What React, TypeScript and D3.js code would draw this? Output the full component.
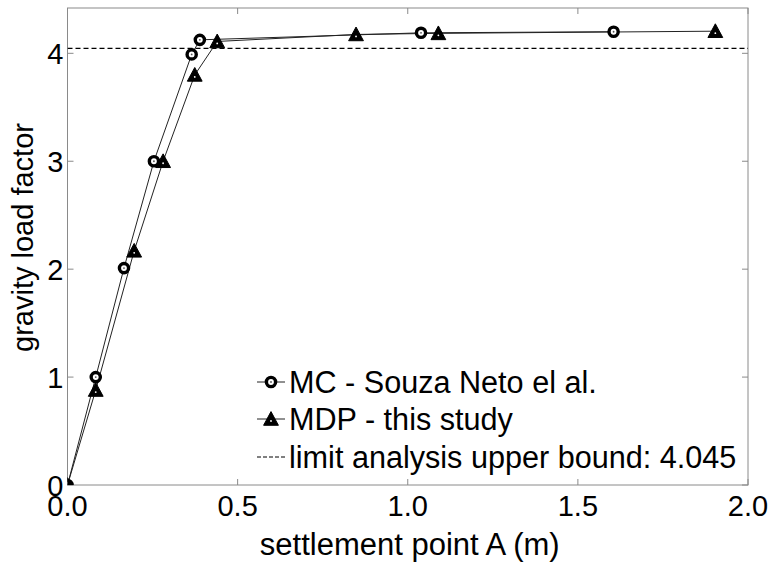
import React from "react";
import * as d3 from "d3";

const W = 771;
const H = 562;
const margin = { left: 67.5, right: 23, top: 8, bottom: 77 };

const xTicks = [0, 0.5, 1.0, 1.5, 2.0];
const yTicks = [0, 1, 2, 3, 4];
const xDomain = [0, 2.0];
const yDomain = [0, 4.42];

const mcX = [0, 0.083, 0.166, 0.254, 0.365, 0.389, 1.039, 1.605];
const mcY = [0, 1.0, 2.01, 3.0, 3.99, 4.125, 4.19, 4.2];
const mdpX = [0, 0.083, 0.196, 0.281, 0.374, 0.44, 0.848, 1.09, 1.904];
const mdpY = [0, 0.88, 2.17, 3.0, 3.8, 4.11, 4.175, 4.185, 4.205];
const upperBound = 4.045;

const legendLabels = [
  "MC - Souza Neto el al.",
  "MDP - this study",
  "limit analysis upper bound: 4.045",
];
const xLabel = "settlement point A (m)";
const yLabel = "gravity load factor";

const FONT = "'Liberation Sans', Arial, Helvetica, sans-serif";

function Circle({ cx, cy }: { cx: number; cy: number }) {
  return (
    <g>
      <circle cx={cx} cy={cy} r={4.6} fill="#fff" stroke="#000" strokeWidth={3.4} />
      <circle cx={cx} cy={cy} r={0.9} fill="#555" />
    </g>
  );
}

function Tri({ cx, cy }: { cx: number; cy: number }) {
  const s = 7.4;
  const p = `${cx},${cy - s} ${cx + s},${cy + s * 0.85} ${cx - s},${cy + s * 0.85}`;
  return (
    <g>
      <polygon points={p} fill="#000" stroke="#000" strokeWidth={1} />
      <circle cx={cx} cy={cy + 2} r={0.9} fill="#fff" />
    </g>
  );
}

export default function App() {
  const x0 = margin.left;
  const x1 = W - margin.right;
  const y0 = H - margin.bottom;
  const y1 = margin.top;
  const x = d3.scaleLinear().domain(xDomain).range([x0, x1]);
  const y = d3.scaleLinear().domain(yDomain).range([y0, y1]);

  const line = d3
    .line<[number, number]>()
    .x((d) => x(d[0]))
    .y((d) => y(d[1]));
  const mc: [number, number][] = mcX.map((v, i) => [v, mcY[i]]);
  const mdp: [number, number][] = mdpX.map((v, i) => [v, mdpY[i]]);

  const axisColor = "#8a8a8a";
  const tickLen = 6;
  const fs = 29;

  const legX = 257;
  const legRows = [382, 419, 457];

  return (
    <svg
      width={W}
      height={H}
      style={{ position: "absolute", left: 0, top: 0, background: "#fff" }}
      fontFamily={FONT}
    >
      <rect x={0} y={0} width={W} height={H} fill="#fff" />
      <defs>
        <clipPath id="plotClip">
          <rect x={x0} y={y1} width={x1 - x0} height={y0 - y1} />
        </clipPath>
      </defs>

      {/* ticks */}
      {xTicks.map((t) => (
        <g key={"xt" + t}>
          <line x1={x(t)} x2={x(t)} y1={y0} y2={y0 - tickLen} stroke={axisColor} />
          <line x1={x(t)} x2={x(t)} y1={y1} y2={y1 + tickLen} stroke={axisColor} />
          <text x={x(t)} y={y0 + 31} fontSize={fs} textAnchor="middle" fill="#000">
            {t.toFixed(1)}
          </text>
        </g>
      ))}
      {yTicks.map((t) => (
        <g key={"yt" + t}>
          <line x1={x0} x2={x0 + tickLen} y1={y(t)} y2={y(t)} stroke={axisColor} />
          <line x1={x1} x2={x1 - tickLen} y1={y(t)} y2={y(t)} stroke={axisColor} />
          <text x={x0 - 4} y={y(t) + 10.5} fontSize={fs} textAnchor="end" fill="#000">
            {t}
          </text>
        </g>
      ))}

      {/* box */}
      <rect x={x0} y={y1} width={x1 - x0} height={y0 - y1} fill="none" stroke={axisColor} strokeWidth={1} />

      <g clipPath="url(#plotClip)">
        <line
          x1={x0}
          x2={x1}
          y1={y(upperBound)}
          y2={y(upperBound)}
          stroke="#000"
          strokeWidth={1.2}
          strokeDasharray="5,3"
        />
        <path d={line(mc) || ""} fill="none" stroke="#222" strokeWidth={1} />
        <path d={line(mdp) || ""} fill="none" stroke="#222" strokeWidth={1} />
        {mc.map((d, i) => (
          <Circle key={"c" + i} cx={x(d[0])} cy={y(d[1])} />
        ))}
        {mdp.map((d, i) => (
          <Tri key={"t" + i} cx={x(d[0])} cy={y(d[1])} />
        ))}
      </g>

      {/* legend */}
      <g>
        <line x1={legX} x2={legX + 28} y1={legRows[0]} y2={legRows[0]} stroke="#222" strokeWidth={1} />
        <Circle cx={legX + 14} cy={legRows[0]} />
        <line x1={legX} x2={legX + 28} y1={legRows[1]} y2={legRows[1]} stroke="#222" strokeWidth={1} />
        <Tri cx={legX + 14} cy={legRows[1]} />
        <line
          x1={legX}
          x2={legX + 28}
          y1={legRows[2]}
          y2={legRows[2]}
          stroke="#000"
          strokeWidth={1}
          strokeDasharray="4,2"
        />
        {legendLabels.map((l, i) => (
          <text key={l} x={legX + 32} y={legRows[i] + 10.5} fontSize={30.6} fill="#000">
            {l}
          </text>
        ))}
      </g>

      {/* axis labels */}
      <text x={(x0 + x1) / 2 + 2} y={y0 + 70} fontSize={31} textAnchor="middle" fill="#000">
        {xLabel}
      </text>
      <text
        transform={`translate(${33},${(y0 + y1) / 2 - 9}) rotate(-90)`}
        fontSize={fs}
        textAnchor="middle"
        fill="#000"
      >
        {yLabel}
      </text>
    </svg>
  );
}
